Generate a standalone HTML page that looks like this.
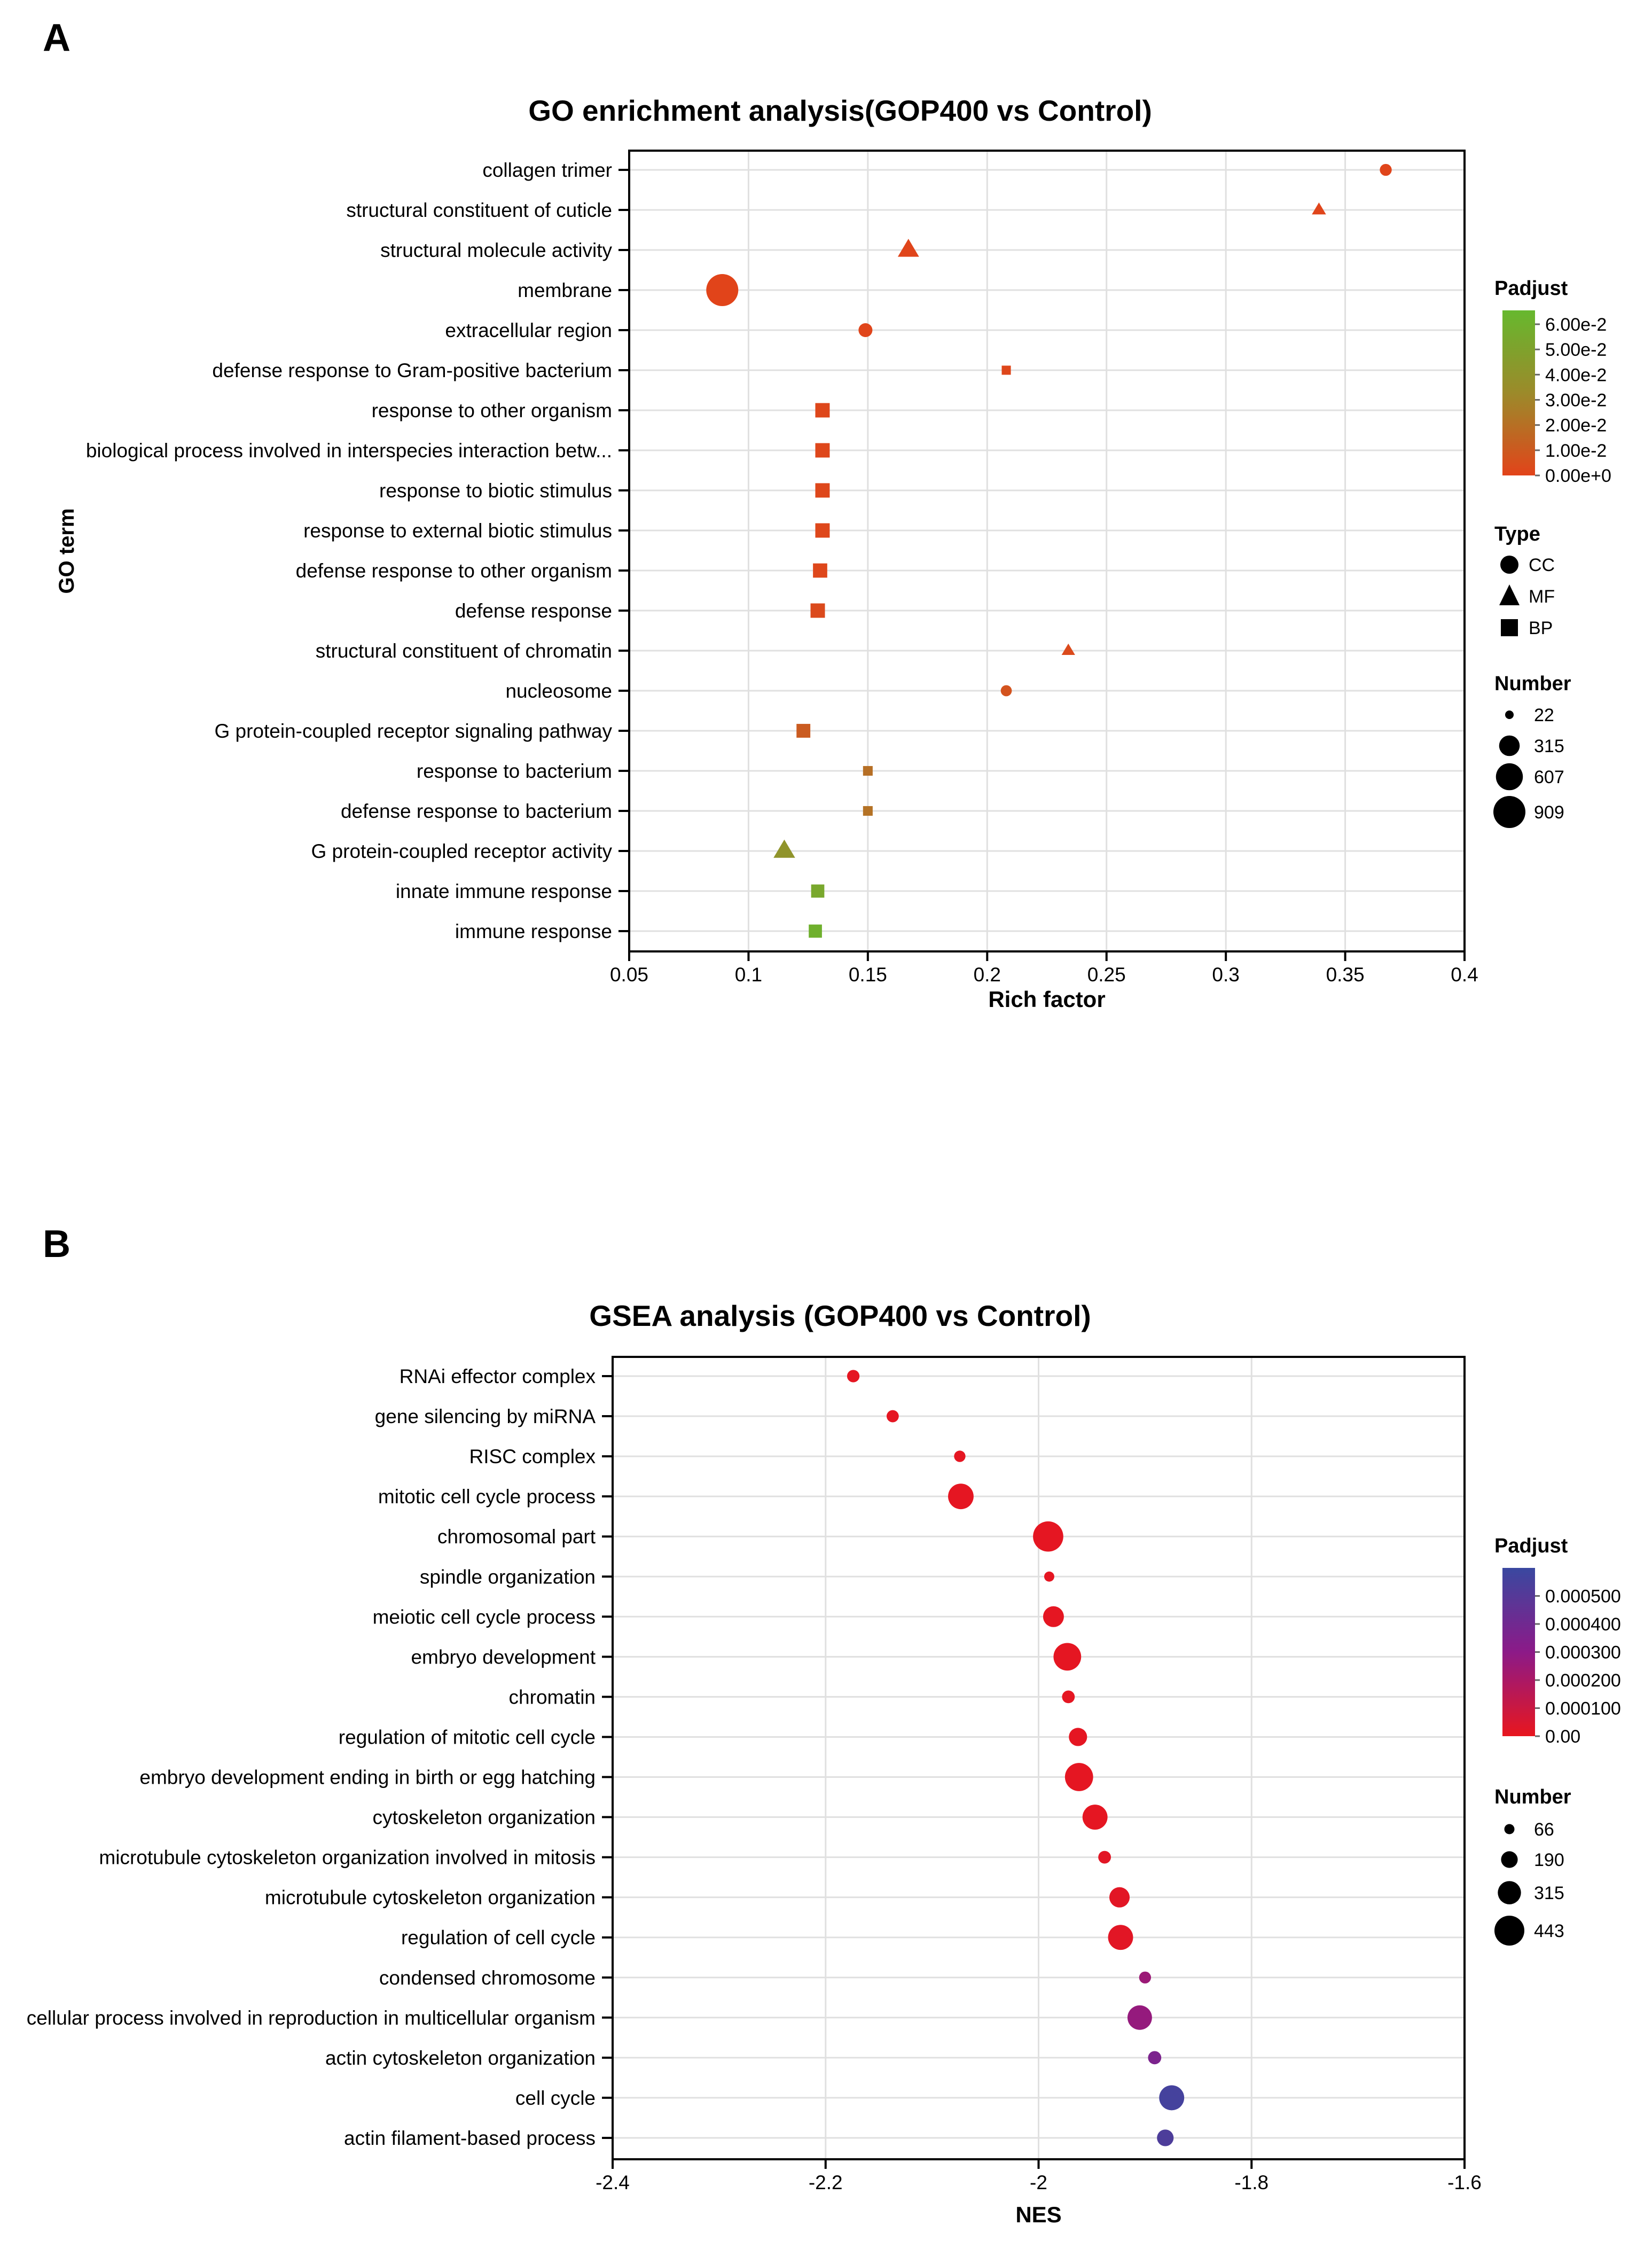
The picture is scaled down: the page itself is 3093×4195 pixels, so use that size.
<!DOCTYPE html>
<html><head><meta charset="utf-8">
<style>
html,body{margin:0;padding:0;background:#fff;}
svg{display:block;font-family:"Liberation Sans",Arial,sans-serif;}
</style></head>
<body>
<svg id="fig" width="3093" height="4195" viewBox="0 0 3093 4195" xmlns="http://www.w3.org/2000/svg">
<rect width="3093" height="4195" fill="#fff"/>
<text x="80" y="95" font-size="72" font-weight="bold">A</text>
<text x="1573" y="226" font-size="55" font-weight="bold" text-anchor="middle">GO enrichment analysis(GOP400 vs Control)</text>
<text x="80" y="2353" font-size="72" font-weight="bold">B</text>
<text x="1573" y="2482" font-size="55" font-weight="bold" text-anchor="middle">GSEA analysis (GOP400 vs Control)</text>
<g id="chartA"></g>
<g id="chartB"></g>
</svg>
<script>
// ---- Chart A data ----
const goTerms = ["collagen trimer","structural constituent of cuticle","structural molecule activity","membrane","extracellular region","defense response to Gram-positive bacterium","response to other organism","biological process involved in interspecies interaction betw...","response to biotic stimulus","response to external biotic stimulus","defense response to other organism","defense response","structural constituent of chromatin","nucleosome","G protein-coupled receptor signaling pathway","response to bacterium","defense response to bacterium","G protein-coupled receptor activity","innate immune response","immune response"];
const goRich = [0.367,0.339,0.167,0.089,0.149,0.208,0.131,0.131,0.131,0.131,0.130,0.129,0.234,0.208,0.123,0.150,0.150,0.115,0.129,0.128];
const goPadj = [0.001,0.001,0.001,0.0005,0.001,0.002,0.002,0.002,0.002,0.002,0.002,0.003,0.003,0.007,0.011,0.020,0.021,0.040,0.054,0.060];
const goNumber = [70,70,220,909,110,50,190,190,190,190,185,190,60,55,170,60,60,230,150,150];
const goType = ["CC","MF","MF","CC","CC","BP","BP","BP","BP","BP","BP","BP","MF","CC","BP","BP","BP","MF","BP","BP"];
const goXTicks = [0.05,0.1,0.15,0.2,0.25,0.3,0.35,0.4];
const goXTickLabels = ["0.05","0.1","0.15","0.2","0.25","0.3","0.35","0.4"];
const goPadjTicks = [0,0.01,0.02,0.03,0.04,0.05,0.06];
const goPadjLabels = ["0.00e+0","1.00e-2","2.00e-2","3.00e-2","4.00e-2","5.00e-2","6.00e-2"];
const goSizeLegend = [22,315,607,909];

// ---- Chart B data ----
const gsTerms = ["RNAi effector complex","gene silencing by miRNA","RISC complex","mitotic cell cycle process","chromosomal part","spindle organization","meiotic cell cycle process","embryo development","chromatin","regulation of mitotic cell cycle","embryo development ending in birth or egg hatching","cytoskeleton organization","microtubule cytoskeleton organization involved in mitosis","microtubule cytoskeleton organization","regulation of cell cycle","condensed chromosome","cellular process involved in reproduction in multicellular organism","actin cytoskeleton organization","cell cycle","actin filament-based process"];
const gsNES = [-2.174,-2.137,-2.074,-2.073,-1.991,-1.990,-1.986,-1.973,-1.972,-1.963,-1.962,-1.947,-1.938,-1.924,-1.923,-1.900,-1.905,-1.891,-1.875,-1.881];
const gsPadj = [0.00001,0.00001,0.00001,0.00001,0.00001,0.00001,0.00001,0.00001,0.00001,0.00001,0.00001,0.00001,0.00002,0.00002,0.00002,0.00025,0.00027,0.00036,0.00056,0.00053];
const gsNumber = [110,105,90,360,450,66,270,400,115,220,410,350,115,260,350,100,340,125,350,190];
const gsXTicks = [-2.4,-2.2,-2.0,-1.8,-1.6];
const gsXTickLabels = ["-2.4","-2.2","-2","-1.8","-1.6"];
const gsPadjTicks = [0,0.0001,0.0002,0.0003,0.0004,0.0005];
const gsPadjLabels = ["0.00","0.000100","0.000200","0.000300","0.000400","0.000500"];
const gsSizeLegend = [66,190,315,443];

const NS="http://www.w3.org/2000/svg";
function mk(parent,tag,attrs,txt){const e=document.createElementNS(NS,tag);for(const k in attrs)e.setAttribute(k,attrs[k]);if(txt!==undefined)e.textContent=txt;parent.appendChild(e);return e;}
function hex(h){return [parseInt(h.slice(1,3),16),parseInt(h.slice(3,5),16),parseInt(h.slice(5,7),16)];}
function lerpColor(stops,t){t=Math.max(0,Math.min(1,t));for(let i=0;i<stops.length-1;i++){const a=stops[i],b=stops[i+1];if(t<=b[0]){const f=(t-a[0])/(b[0]-a[0]);const ca=hex(a[1]),cb=hex(b[1]);return "rgb("+ca.map((v,j)=>Math.round(v+(cb[j]-v)*f)).join(",")+")";}}return stops[stops.length-1][1];}

const LGX={title:2798,barX:2813,barW:61,lab:2893,sym:2826,symText:2862,numText:2872};

function drawChart(g,cfg){
  const {L,R,T,B,row0,rowStep,xmin,xmax}=cfg;
  const xs=v=>L+(v-xmin)/(xmax-xmin)*(R-L);
  const ys=i=>row0+i*rowStep;
  cfg.xticks.forEach((t,i)=>{
    const x=xs(t);
    if(i>0&&i<cfg.xticks.length-1){const gl=mk(g,"line",{x1:x,x2:x,y1:T,y2:B,stroke:"#e0e0e0","stroke-width":3});
      
      }
    const tk=mk(g,"line",{x1:x,x2:x,y1:B,y2:B+18,stroke:"#000","stroke-width":4});
    
    
    const tl=mk(g,"text",{x:x,y:B+56,"font-size":37,"text-anchor":"middle"},cfg.xlabels[i]);
    
    
  });
  cfg.terms.forEach((term,i)=>{
    const y=ys(i);
    const gl=mk(g,"line",{x1:L,x2:R,y1:y,y2:y,stroke:"#e0e0e0","stroke-width":3});
    
    
    const tk=mk(g,"line",{x1:L-20,x2:L,y1:y,y2:y,stroke:"#000","stroke-width":4});
    
    
    const tl=mk(g,"text",{x:L-32,y:y+13,"font-size":37,"text-anchor":"end"},term);
    
    
  });
  const frame=mk(g,"rect",{x:L,y:T,width:R-L,height:B-T,fill:"none",stroke:"#000","stroke-width":4});
  
  
  cfg.values.forEach((v,i)=>{
    const cx=xs(v),cy=ys(i),r=cfg.rs(cfg.numbers[i]),col=cfg.color(cfg.padj[i]);
    const type=cfg.types?cfg.types[i]:"CC";
    let p;
    if(type==="CC"){p=mk(g,"circle",{cx:cx,cy:cy,r:r,fill:col});}
    else if(type==="BP"){const s=r*0.85;p=mk(g,"rect",{x:cx-s,y:cy-s,width:2*s,height:2*s,fill:col});}
    else{const s=r*1.25;p=mk(g,"polygon",{points:`${cx},${cy-s} ${cx+s*0.95},${cy+s*0.6} ${cx-s*0.95},${cy+s*0.6}`,fill:col});}
    
    
  });
  const xt=mk(g,"text",{x:(L+R)/2,y:cfg.xTitleY,"font-size":42,"font-weight":"bold","text-anchor":"middle"},cfg.xtitle);
  
  
  if(cfg.ytitle){
    const yt=mk(g,"text",{x:0,y:0,"font-size":40,"font-weight":"bold","text-anchor":"middle",transform:`translate(138,${(T+B)/2}) rotate(-90)`},cfg.ytitle);
    
    
  }
  const lg=cfg.legend;
  const lt=mk(g,"text",{x:LGX.title,y:lg.titleY,"font-size":38,"font-weight":"bold"},"Padjust");
  
  
  const gid="grad"+cfg.id;
  const defs=mk(g,"defs",{});
  const grad=mk(defs,"linearGradient",{id:gid,x1:0,y1:1,x2:0,y2:0});
  for(let k=0;k<=10;k++){mk(grad,"stop",{offset:k/10,"stop-color":cfg.color(lg.barMax*k/10)});}
  const bar=mk(g,"rect",{x:LGX.barX,y:lg.barTop,width:LGX.barW,height:lg.barBottom-lg.barTop,fill:`url(#${gid})`});
  
  
  const by=v=>lg.barBottom-(v/lg.barMax)*(lg.barBottom-lg.barTop);
  lg.ticks.forEach((t,k)=>{
    const y=by(t);
    mk(g,"line",{x1:LGX.barX+LGX.barW,x2:LGX.barX+LGX.barW+9,y1:y,y2:y,stroke:"#666","stroke-width":3});
    const tl=mk(g,"text",{x:LGX.lab,y:y+12,"font-size":34},lg.labels[k]);
    
    
  });
  if(lg.typeY){
    const tt=mk(g,"text",{x:LGX.title,y:lg.typeY,"font-size":38,"font-weight":"bold"},"Type");
    
    
    ["CC","MF","BP"].forEach((t,k)=>{
      const y=lg.typeY+57+k*59, cx=LGX.sym;
      let s;
      if(t==="CC") s=mk(g,"circle",{cx:cx,cy:y-12,r:17,fill:"#000"});
      else if(t==="MF") s=mk(g,"polygon",{points:`${cx},${y-34} ${cx+19},${y+5} ${cx-19},${y+5}`,fill:"#000"});
      else s=mk(g,"rect",{x:cx-16,y:y-28,width:32,height:32,fill:"#000"});
      
      
      const tx=mk(g,"text",{x:LGX.symText,y:y,"font-size":34},t);
      
      
    });
  }
  const nt=mk(g,"text",{x:LGX.title,y:lg.numY,"font-size":38,"font-weight":"bold"},"Number");
  
  
  cfg.sizeLegend.forEach((n,k)=>{
    const y=lg.numRows[k];
    const c=mk(g,"circle",{cx:LGX.sym,cy:y,r:cfg.rs(n),fill:"#000"});
    
    
    const tx=mk(g,"text",{x:LGX.numText,y:y+12,"font-size":34},String(n));
    
    
  });
}

const stopsA=[[0,"#e2431a"],[0.46,"#a0862a"],[1,"#66b82e"]];
drawChart(document.getElementById("chartA"),{
  id:"A",L:1178,R:2742,T:282,B:1781,row0:318,rowStep:75,xmin:0.05,xmax:0.4,
  xticks:goXTicks,xlabels:goXTickLabels,terms:goTerms,values:goRich,padj:goPadj,numbers:goNumber,types:goType,
  rs:n=>8+22*(Math.sqrt(n)-Math.sqrt(22))/(Math.sqrt(909)-Math.sqrt(22)),
  color:p=>lerpColor(stopsA,p/0.0655),
  xtitle:"Rich factor",xTitleY:1885,ytitle:"GO term",
  sizeLegend:goSizeLegend,
  legend:{titleY:552,barTop:581,barBottom:890,barMax:0.0655,ticks:goPadjTicks,labels:goPadjLabels,typeY:1012,numY:1292,numRows:[1338,1396,1454,1520]}
});
const stopsB=[[0,"#e8161e"],[0.5,"#8c1a88"],[1,"#3a48a0"]];
drawChart(document.getElementById("chartB"),{
  id:"B",L:1147,R:2742,T:2540,B:4042,row0:2576,rowStep:75.05,xmin:-2.4,xmax:-1.6,
  xticks:gsXTicks,xlabels:gsXTickLabels,terms:gsTerms,values:gsNES,padj:gsPadj,numbers:gsNumber,types:null,
  rs:n=>9.5+(n-66)/377*18.5,
  color:p=>lerpColor(stopsB,p/0.0006),
  xtitle:"NES",xTitleY:4160,ytitle:null,
  sizeLegend:gsSizeLegend,
  legend:{titleY:2906,barTop:2935,barBottom:3250,barMax:0.0006,ticks:gsPadjTicks,labels:gsPadjLabels,typeY:null,numY:3376,numRows:[3424,3481,3543,3614]}
});
</script>
</body></html>
